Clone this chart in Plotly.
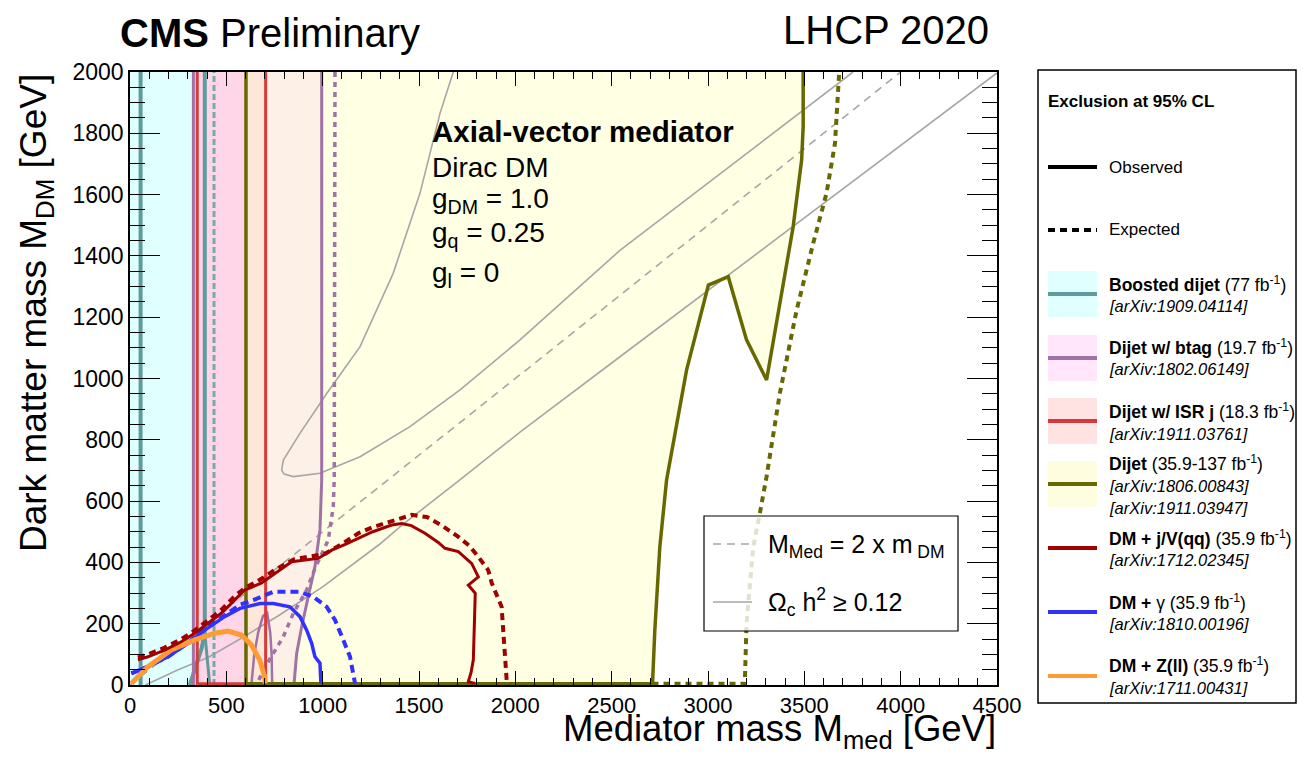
import plotly.graph_objects as go

# ---------------- data (GeV) ----------------
x_ticks = [0, 500, 1000, 1500, 2000, 2500, 3000, 3500, 4000, 4500]
y_ticks = [0, 200, 400, 600, 800, 1000, 1200, 1400, 1600, 1800, 2000]

# filled exclusion bands
boosted_band_x = [0, 329, 329, 0]
boosted_band_y = [0, 0, 2000, 2000]
btag_isr_band_x = [329, 602, 602, 329]
btag_isr_band_y = [0, 0, 2000, 2000]
isr_dijet_band_x = [602, 704, 704, 602]
isr_dijet_band_y = [0, 0, 2000, 2000]

# Dijet w/ btag (purple)
btag_obs_x = [995, 995, 986, 960, 925, 891, 865, 851]
btag_obs_y = [2000, 669, 506, 386, 288, 190, 103, 0]
btag_obs_left_x = [329, 329]
btag_obs_left_y = [0, 2000]
btag_arch_x = [630, 645, 665, 690, 712, 728, 735, 738]
btag_arch_y = [0, 100, 170, 225, 235, 170, 100, 0]
btag_exp_x = [1064, 1060, 1055, 1029, 960, 917, 848, 796, 744, 692, 657]
btag_exp_y = [2000, 669, 582, 473, 380, 310, 234, 158, 103, 49, 0]

# Boosted dijet (teal)
boosted_obs1_x = [55, 55]
boosted_obs1_y = [0, 2000]
boosted_obs2_x = [310, 340, 372, 388, 388]
boosted_obs2_y = [0, 60, 120, 170, 2000]
boosted_obs3_x = [414, 405, 395, 388]
boosted_obs3_y = [0, 60, 120, 170]
boosted_exp_x = [436, 436]
boosted_exp_y = [0, 2000]

# Dijet w/ ISR j (red)
isr_obs_x = [349, 349, 704, 704]
isr_obs_y = [2000, 4, 4, 2000]

# Dijet (olive)
dijet_obs_x = [602, 602, 2712, 2724, 2750, 2785, 2889, 3002, 3105, 3200, 3304, 3442, 3486, 3494, 3494]
dijet_obs_y = [2000, 4, 4, 179, 451, 669, 1028, 1305, 1332, 1126, 995, 1495, 1713, 1822, 2000]
dijet_exp_x = [2712, 3191, 3200, 3235, 3269, 3304, 3373, 3460, 3546, 3615, 3659, 3676, 3681]
dijet_exp_y = [4, 4, 201, 451, 560, 680, 952, 1223, 1441, 1604, 1767, 1930, 2000]

# DM + j/V(qq) (dark red)
monojet_obs_x = [41, 93, 180, 266, 336, 405, 474, 543, 595, 681, 751, 839, 977, 1047, 1120, 1185, 1260,
                 1358, 1410, 1460, 1531, 1600, 1635, 1704, 1750, 1773, 1808, 1756, 1792, 1790, 1786,
                 1782, 1770, 1756, 1790]
monojet_obs_y = [82, 92, 114, 141, 169, 201, 234, 277, 310, 332, 364, 402, 413, 440, 460, 479, 500,
                 522, 527, 520, 495, 465, 446, 435, 410, 397, 353, 326, 299, 234, 170,
                 82, 40, 11, 5]
monojet_exp_x = [41, 93, 180, 266, 336, 405, 474, 543, 600, 666, 751, 850, 1012, 1100, 1185, 1260, 1323,
                 1400, 1462, 1540, 1620, 1703, 1760, 1807, 1859, 1878, 1929, 1937, 1946, 1955, 1975]
monojet_exp_y = [90, 100, 122, 150, 178, 210, 245, 290, 318, 340, 375, 410, 428, 460, 495, 515, 527,
                 545, 555, 548, 520, 484, 455, 419, 375, 332, 255, 179, 82, 16, 5]

# DM + gamma (blue)
photon_obs_x = [7, 93, 197, 301, 388, 491, 571, 675, 744, 830, 882, 917, 943, 960, 986, 991]
photon_obs_y = [38, 60, 92, 136, 179, 223, 250, 266, 266, 255, 223, 179, 136, 92, 71, 5]
photon_exp_x = [7, 93, 197, 301, 388, 491, 571, 640, 744, 882, 951, 1021, 1064, 1107, 1142, 1168]
photon_exp_y = [38, 60, 92, 138, 182, 228, 262, 277, 304, 304, 288, 255, 212, 147, 92, 5]

# DM + Z(ll) (orange)
zll_obs_x = [7, 93, 214, 336, 440, 509, 578, 630, 673, 699, 702]
zll_obs_y = [5, 60, 114, 147, 169, 176, 163, 131, 82, 27, 5]

# relic density and M_med = 2 m_DM
relic_low_x = [80, 250, 405, 571, 768, 1000, 1297, 1418, 1704, 2024, 2543, 3477, 4500]
relic_low_y = [0, 50, 90, 150, 225, 320, 460, 525, 665, 825, 1071, 1513, 1997]
relic_up_x = [1678, 1609, 1505, 1366, 1194, 1021, 882, 796, 787, 800, 848, 986, 1194, 1453, 1713, 2024,
              2543, 3150, 3753]
relic_up_y = [2000, 1865, 1604, 1343, 1104, 951, 821, 734, 701, 688, 680, 691, 745, 843, 963, 1126,
              1418, 1710, 2000]
diag_x = [0, 4000]
diag_y = [0, 2000]

# ---------------- layout helpers (window pixel -> paper) ----------------
OFF = 8                      # page body margin of the html
W, H = 1305 - 2 * OFF, 759 - 2 * OFF
L, R, T, B = 130, 997, 72, 685   # plot area in window pixels
FONT = "Liberation Sans, Arial, Helvetica, sans-serif"


def px(x):
    return (x - L) / (R - L)


def py(y):
    return (B - y) / (B - T)


fig = go.Figure()


def fill(x, y, color):
    fig.add_trace(go.Scatter(x=x, y=y, mode="lines", fill="toself", fillcolor=color,
                             line=dict(width=0, color=color), hoverinfo="skip", showlegend=False))


def line(x, y, color, width, dash="solid"):
    fig.add_trace(go.Scatter(x=x, y=y, mode="lines", line=dict(color=color, width=width, dash=dash),
                             hoverinfo="skip", showlegend=False))


# fills
fill(dijet_obs_x[1:] + [602], dijet_obs_y[1:] + [2000], "#ffffe3")
fill(boosted_band_x, boosted_band_y, "#e0ffff")
fill(btag_isr_band_x, btag_isr_band_y, "#ffd6e7")
fill(isr_dijet_band_x, isr_dijet_band_y, "#fde7d8")
fill([704] + btag_obs_x[::-1] + [704], [0] + btag_obs_y[::-1] + [2000], "#fdf0e6")

# gray reference lines
GRAY = "#a6a6a6"
line(diag_x, diag_y, GRAY, 1.6, "8px,6px")
line(relic_low_x, relic_low_y, GRAY, 1.6)
line(relic_up_x, relic_up_y, GRAY, 1.6)

# boosted dijet
TEAL = "#5f9a9c"
line(boosted_obs1_x, boosted_obs1_y, TEAL, 4)
line(boosted_obs2_x, boosted_obs2_y, TEAL, 4)
line(boosted_obs3_x, boosted_obs3_y, TEAL, 3)
line(boosted_exp_x, boosted_exp_y, "#78aaaa", 3, "6px,3px")

# btag
PURPLE = "#a072a6"
line(btag_obs_left_x, btag_obs_left_y, PURPLE, 3)
line(btag_obs_x, btag_obs_y, PURPLE, 3)
line(btag_arch_x, btag_arch_y, PURPLE, 2.5)
line(btag_exp_x, btag_exp_y, PURPLE, 3.5, "5px,5px")

# ISR
line(isr_obs_x, isr_obs_y, "#d63a3a", 3)

# dijet
OLIVE = "#686800"
line(dijet_obs_x, dijet_obs_y, OLIVE, 3.5)
line(dijet_exp_x, dijet_exp_y, OLIVE, 4, "6px,5px")

# mono-photon
BLUE = "#3030ff"
line(photon_exp_x, photon_exp_y, BLUE, 4, "8px,5px")
line(photon_obs_x, photon_obs_y, BLUE, 3.5)

# Z(ll)
ORANGE = "#ff9a35"
line(zll_obs_x, zll_obs_y, ORANGE, 5)

# mono-jet / V
DARKRED = "#a00000"
line(monojet_exp_x, monojet_exp_y, DARKRED, 4, "7px,5px")
line(monojet_obs_x, monojet_obs_y, DARKRED, 3)

shapes = []
annotations = []


def text(x, y, s, size, xanchor="left", yanchor="middle", angle=0):
    annotations.append(dict(x=px(x), y=py(y), xref="paper", yref="paper", text=s, showarrow=False,
                            xanchor=xanchor, yanchor=yanchor, textangle=angle,
                            font=dict(family=FONT, size=size, color="black")))


# titles
text(118, 33, "<b>CMS</b> Preliminary", 40)
text(991, 30, "LHCP 2020", 40, xanchor="right")
text(998, 731, "Mediator mass M<sub>med</sub> [GeV]", 36.5, xanchor="right")
text(36, 72, "Dark matter mass M<sub>DM</sub> [GeV]", 37, xanchor="center", yanchor="top", angle=-90)

# in-plot annotation
text(430, 131, "<b>Axial-vector mediator</b>", 29.5)
text(430, 167, "Dirac DM", 28)
text(430, 200, "g<sub>DM</sub> = 1.0", 28)
text(430, 234, "g<sub>q</sub> = 0.25", 28)
text(430, 274, "g<sub>l</sub> = 0", 28)

# inset legend
shapes.append(dict(type="rect", xref="paper", yref="paper", x0=px(704), x1=px(958), y0=py(631), y1=py(516),
                   line=dict(color="black", width=1.2), fillcolor="rgba(255,255,255,0.8)", layer="above"))
shapes.append(dict(type="line", xref="paper", yref="paper", x0=px(713), x1=px(752), y0=py(544), y1=py(544),
                   line=dict(color=GRAY, width=1.6, dash="8px,6px"), layer="above"))
shapes.append(dict(type="line", xref="paper", yref="paper", x0=px(713), x1=px(752), y0=py(602), y1=py(602),
                   line=dict(color=GRAY, width=1.6), layer="above"))
text(766, 546, "M<sub>Med</sub> = 2 x m<sub> DM</sub>", 25)
text(766, 602, "Ω<sub>c</sub> h<sup>2</sup> ≥ 0.12", 25)

# right legend panel
shapes.append(dict(type="rect", xref="paper", yref="paper", x0=px(1038), x1=px(1296), y0=py(703), y1=py(70),
                   line=dict(color="black", width=1.5), fillcolor="white", layer="above"))
text(1046, 102, "<b>Exclusion at 95% CL</b>", 17)
shapes.append(dict(type="line", xref="paper", yref="paper", x0=px(1048), x1=px(1097), y0=py(167), y1=py(167),
                   line=dict(color="black", width=4), layer="above"))
text(1107, 167, "Observed", 17)
shapes.append(dict(type="line", xref="paper", yref="paper", x0=px(1048), x1=px(1097), y0=py(230), y1=py(230),
                   line=dict(color="black", width=4, dash="7px,5px"), layer="above"))
text(1107, 229, "Expected", 17)

entries = [
    (294, "#e0ffff", TEAL, ["<b>Boosted dijet</b> (77 fb<sup>-1</sup>)", "<i>[arXiv:1909.04114]</i>"], [284, 306]),
    (358, "#ffe6fa", PURPLE, ["<b>Dijet w/ btag</b> (19.7 fb<sup>-1</sup>)", "<i>[arXiv:1802.06149]</i>"], [347, 369]),
    (421, "#ffe2e2", "#d63a3a", ["<b>Dijet w/ ISR j</b> (18.3 fb<sup>-1</sup>)", "<i>[arXiv:1911.03761]</i>"], [411, 434]),
    (484, "#fffde0", OLIVE, ["<b>Dijet</b> (35.9-137 fb<sup>-1</sup>)", "<i>[arXiv:1806.00843]</i>",
                             "<i>[arXiv:1911.03947]</i>"], [463, 486, 508]),
    (548, None, DARKRED, ["<b>DM + j/V(qq)</b> (35.9 fb<sup>-1</sup>)", "<i>[arXiv:1712.02345]</i>"], [538, 560]),
    (612, None, BLUE, ["<b>DM + </b>γ (35.9 fb<sup>-1</sup>)", "<i>[arXiv:1810.00196]</i>"], [602, 624]),
    (676, None, ORANGE, ["<b>DM + Z(ll)</b> (35.9 fb<sup>-1</sup>)", "<i>[arXiv:1711.00431]</i>"], [665, 688]),
]
for ly, fcol, lcol, lines_, ys in entries:
    if fcol:
        shapes.append(dict(type="rect", xref="paper", yref="paper", x0=px(1048), x1=px(1097),
                           y0=py(ly + 23), y1=py(ly - 23), line=dict(width=0), fillcolor=fcol, layer="above"))
    shapes.append(dict(type="line", xref="paper", yref="paper", x0=px(1048), x1=px(1097), y0=py(ly), y1=py(ly),
                       line=dict(color=lcol, width=4), layer="above"))
    for i, (s, yy) in enumerate(zip(lines_, ys)):
        text(1107, yy, s, 17.5 if i == 0 else 16.5)

fig.update_layout(
    width=W, height=H,
    margin=dict(l=L - OFF, r=(OFF + W) - R, t=T - OFF, b=(OFF + H) - B, pad=0),
    paper_bgcolor="white", plot_bgcolor="white",
    showlegend=False,
    shapes=shapes, annotations=annotations,
    font=dict(family=FONT, color="black"),
)
fig.update_xaxes(range=[0, 4500], tickvals=x_ticks, ticktext=[str(v) for v in x_ticks],
                 ticks="inside", ticklen=14, tickwidth=1.3, tickcolor="black",
                 minor=dict(dtick=100, ticks="inside", ticklen=7, tickwidth=1, tickcolor="black"),
                 showline=True, linecolor="black", linewidth=1.5, mirror="allticks",
                 showgrid=False, zeroline=False, tickfont=dict(size=22, family=FONT, color="black"))
fig.update_yaxes(range=[0, 2000], tickvals=y_ticks, ticktext=[str(v) for v in y_ticks],
                 ticks="inside", ticklen=30, tickwidth=1.3, tickcolor="black",
                 minor=dict(dtick=50, ticks="inside", ticklen=15, tickwidth=1, tickcolor="black"),
                 showline=True, linecolor="black", linewidth=1.5, mirror="allticks",
                 showgrid=False, zeroline=False, tickfont=dict(size=23, family=FONT, color="black"))

fig.write_html("out.html")
